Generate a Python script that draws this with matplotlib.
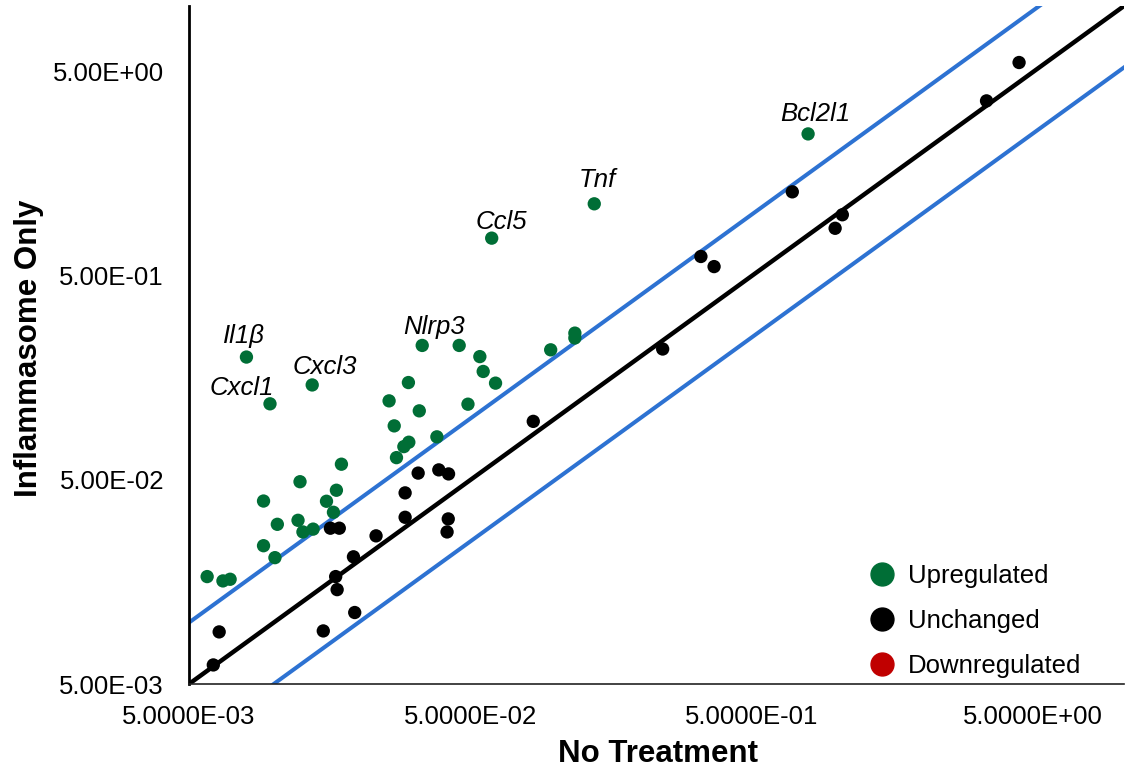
import numpy as np
import matplotlib.pyplot as plt
from matplotlib.lines import Line2D
from matplotlib.ticker import FixedLocator, FixedFormatter, NullLocator

# ============================================================
# Data
# ============================================================

# Upregulated genes: No Treatment (x) vs Inflammasome Only (y)
up_x = [0.0080, 0.0137, 0.0097, 0.0337, 0.0456, 0.0540, 0.0555, 0.0614,
        0.0964, 0.1175, 0.1175, 0.0595, 0.1377, 0.792, 0.0301, 0.0257,
        0.0329, 0.0490, 0.0268, 0.0380, 0.0302, 0.0290, 0.0273, 0.0174,
        0.0124, 0.0092, 0.0167, 0.0154, 0.0163, 0.0103, 0.0122, 0.0127,
        0.0138, 0.0092, 0.0101, 0.0058, 0.0066, 0.0070]
up_y = [0.200, 0.146, 0.118, 0.228, 0.228, 0.201, 0.170, 0.149,
        0.217, 0.262, 0.248, 0.765, 1.127, 2.48, 0.150, 0.122,
        0.109, 0.1175, 0.092, 0.0813, 0.0765, 0.0728, 0.0643, 0.0597,
        0.049, 0.0394, 0.0445, 0.0393, 0.0347, 0.0303, 0.0317, 0.0278,
        0.0287, 0.0238, 0.0208, 0.0168, 0.0160, 0.0163]

# Unchanged genes
unch_x = [0.0061, 0.0064, 0.0150, 0.0194, 0.0168, 0.0166, 0.0192, 0.0231,
          0.0159, 0.0171, 0.0293, 0.0293, 0.0326, 0.0386, 0.0418, 0.0417,
          0.0413, 0.0836, 0.241, 0.3295, 0.367, 0.696, 1.048, 0.988,
          3.41, 4.45]
unch_y = [0.0062, 0.0090, 0.0091, 0.0112, 0.0145, 0.0168, 0.0210, 0.0266,
          0.0290, 0.0290, 0.0328, 0.0432, 0.0540, 0.0560, 0.0535, 0.0322,
          0.0278, 0.0968, 0.219, 0.622, 0.555, 1.29, 0.996, 0.855,
          3.60, 5.55]

# Downregulated genes (none in this comparison)
down_x = []
down_y = []

# Labelled genes: name, x, y, label offset (points)
gene_names = ["Il1\u03b2", "Cxcl1", "Cxcl3", "Nlrp3", "Ccl5", "Tnf", "Bcl2l1"]
gene_x = [0.0080, 0.0097, 0.0137, 0.0337, 0.0595, 0.1377, 0.792]
gene_y = [0.200, 0.118, 0.146, 0.228, 0.765, 1.127, 2.48]
gene_offsets = [(-2, 10), (-20, 6.5), (9.4, 7.9), (8.6, 7.9), (7.2, 6.5), (2.2, 12.2), (5, 9.4)]

# Fold-change reference lines
fold_lines = [2.0, 0.5]

tick_values = [5e-3, 5e-2, 5e-1, 5e0]
x_tick_labels = ["5.0000E-03", "5.0000E-02", "5.0000E-01", "5.0000E+00"]
y_tick_labels = ["5.00E-03", "5.00E-02", "5.00E-01", "5.00E+00"]

AX_MIN = 5e-3
AX_MAX = 10.5

GREEN = "#006E36"
BLACK = "#000000"
RED = "#C00000"
BLUE = "#2D72D2"

# ============================================================
# Chart
# ============================================================

plt.rcParams["font.family"] = ["Liberation Sans", "DejaVu Sans"]

fig = plt.figure(figsize=(11.28, 7.72), dpi=100)
ax = fig.add_axes([189 / 1128, 88 / 772, 935 / 1128, 678 / 772])

ax.set_xscale("log")
ax.set_yscale("log")
ax.set_xlim(AX_MIN, AX_MAX)
ax.set_ylim(AX_MIN, AX_MAX)

line_x = np.array([AX_MIN, AX_MAX])
for f in fold_lines:
    ax.plot(line_x, line_x * f, color=BLUE, lw=2.9, zorder=2)
ax.plot(line_x, line_x, color=BLACK, lw=3.2, zorder=2)

ax.scatter(up_x, up_y, s=92, color=GREEN, edgecolors="none", zorder=3)
ax.scatter(unch_x, unch_y, s=92, color=BLACK, edgecolors="none", zorder=3)
if down_x:
    ax.scatter(down_x, down_y, s=92, color=RED, edgecolors="none", zorder=3)

for name, gx, gy, off in zip(gene_names, gene_x, gene_y, gene_offsets):
    ax.annotate(name, (gx, gy), xytext=off, textcoords="offset points",
                ha="center", va="baseline", fontsize=18.5, style="italic")

ax.xaxis.set_major_locator(FixedLocator(tick_values))
ax.xaxis.set_major_formatter(FixedFormatter(x_tick_labels))
ax.yaxis.set_major_locator(FixedLocator(tick_values))
ax.yaxis.set_major_formatter(FixedFormatter(y_tick_labels))
ax.xaxis.set_minor_locator(NullLocator())
ax.yaxis.set_minor_locator(NullLocator())
ax.tick_params(axis="x", length=0, pad=15, labelsize=18.5)
ax.tick_params(axis="y", length=0, pad=18, labelsize=18.5)

for side in ["top", "right"]:
    ax.spines[side].set_visible(False)
ax.spines["left"].set_linewidth(2.0)
ax.spines["bottom"].set_linewidth(1.2)
ax.spines["bottom"].set_color("#222222")

fig.text(658 / 1128, 1 - 754 / 772, "No Treatment", ha="center", va="center",
         fontsize=22.5, fontweight="bold")
fig.text(29 / 1128, 1 - 348 / 772, "Inflammasome Only", ha="center", va="center",
         rotation=90, fontsize=22.5, fontweight="bold")

handles = [
    Line2D([], [], marker="o", ls="none", color=GREEN, markersize=16.5),
    Line2D([], [], marker="o", ls="none", color=BLACK, markersize=16.5),
    Line2D([], [], marker="o", ls="none", color=RED, markersize=16.5),
]
ax.legend(handles, ["Upregulated", "Unchanged", "Downregulated"],
          loc="lower left", bbox_to_anchor=(869 / 1128, 94 / 772),
          bbox_transform=fig.transFigure, frameon=False, fontsize=18.5,
          handlelength=1.0, handletextpad=0.5, labelspacing=0.82,
          borderpad=0, borderaxespad=0)

fig.savefig("out.png", dpi=100)
